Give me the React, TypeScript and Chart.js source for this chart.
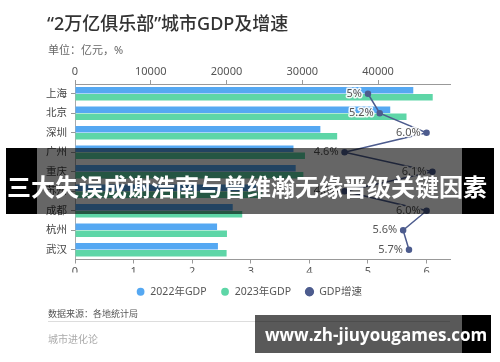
import React, { useEffect, useRef } from "react";
import { Chart, registerables } from "chart.js";

Chart.register(...registerables);

const cities = ["上海", "北京", "深圳", "广州", "重庆", "苏州", "成都", "杭州", "武汉"];
const gdp2022 = [44653, 41611, 32388, 28839, 29129, 23958, 20818, 18753, 18866];
const gdp2023 = [47219, 43761, 34606, 30356, 30146, 24653, 22075, 20059, 20011];
const growth = [5.0, 5.2, 6.0, 4.6, 6.1, 4.6, 6.0, 5.6, 5.7];
const growthLabels = ["5%", "5.2%", "6.0%", "4.6%", "6.1%", "4.6%", "6.0%", "5.6%", "5.7%"];
const seriesNames = ["2022年GDP", "2023年GDP", "GDP增速"];
const gdpTicks = [0, 10000, 20000, 30000, 40000];
const rateTicks = [0, 1, 2, 3, 4, 5, 6];

const BLUE = "#55a8f2";
const GREEN = "#5ed6a7";
const NAVY = "#4d5c8e";
const FONT = '"Noto Sans", "Noto Sans CJK SC", sans-serif';

const pointLabelPlugin = {
  id: "pointLabels",
  afterLayout(chart: any) {
    if (chart.legend) {
      chart.legend.left += 24;
      chart.legend.right += 24;
    }
  },
  afterDatasetsDraw(chart: any) {
    const meta = chart.getDatasetMeta(2);
    const ctx = chart.ctx;
    ctx.save();
    ctx.font = `11px ${FONT}`;
    ctx.textAlign = "right";
    ctx.textBaseline = "middle";
    ctx.lineJoin = "round";
    meta.data.forEach((pt: any, i: number) => {
      const x = pt.x - 6;
      const y = pt.y;
      ctx.strokeStyle = "rgba(255,255,255,0.9)";
      ctx.lineWidth = 3;
      ctx.strokeText(growthLabels[i], x, y);
      ctx.fillStyle = "#555";
      ctx.fillText(growthLabels[i], x, y);
    });
    ctx.restore();
  },
};

export default function App() {
  const ref = useRef<HTMLCanvasElement>(null);
  useEffect(() => {
    if (!ref.current) return;
    const chart = new Chart(ref.current, {
      type: "bar",
      data: {
        labels: cities,
        datasets: [
          {
            label: seriesNames[0],
            data: gdp2022,
            backgroundColor: BLUE,
            xAxisID: "x",
            yAxisID: "y",
            order: 1,
            barPercentage: 0.9,
            categoryPercentage: 0.74,
          },
          {
            label: seriesNames[1],
            data: gdp2023,
            backgroundColor: GREEN,
            xAxisID: "x",
            yAxisID: "y",
            order: 1,
            barPercentage: 0.9,
            categoryPercentage: 0.74,
          },
          {
            type: "line",
            label: seriesNames[2],
            data: growth,
            borderColor: NAVY,
            backgroundColor: NAVY,
            borderWidth: 1.5,
            pointRadius: 2.5,
            pointBackgroundColor: NAVY,
            pointBorderColor: NAVY,
            pointStyle: "circle",
            xAxisID: "x2",
            yAxisID: "y",
            order: 0,
          } as any,
        ],
      },
      options: {
        indexAxis: "y",
        animation: false,
        responsive: false,
        layout: { padding: { left: 0, right: 50, top: 60, bottom: 55 } },
        font: { family: FONT },
        scales: {
          y: {
            type: "category",
            position: "left",
            offset: true,
            afterFit: (s: any) => {
              s.width = 75;
            },
            grid: {
              display: true,
              drawOnChartArea: false,
              offset: false,
              tickLength: 4,
              color: "#999",
            },
            border: { display: true, color: "#aaa" },
            ticks: { color: "#444", font: { size: 10.5, family: FONT }, padding: 4 },
          },
          x: {
            type: "linear",
            position: "top",
            min: 0,
            max: 49500,
            afterFit: (s: any) => {
              s.height = 24;
            },
            afterBuildTicks: (s: any) => {
              s.ticks = gdpTicks.map((v) => ({ value: v }));
            },
            grid: { display: true, drawOnChartArea: false, tickLength: 4, color: "#999" },
            border: { display: true, color: "#999" },
            ticks: {
              color: "#555",
              font: { size: 11, family: FONT },
              padding: 2,
              autoSkip: false,
              maxRotation: 0,
              callback: (v: any) => String(v),
            },
          },
          x2: {
            type: "linear",
            position: "bottom",
            min: 0,
            max: 6.4,
            afterFit: (s: any) => {
              s.height = 13;
            },
            afterBuildTicks: (s: any) => {
              s.ticks = rateTicks.map((v) => ({ value: v }));
            },
            grid: { display: true, drawOnChartArea: false, tickLength: 4, color: "#999" },
            border: { display: true, color: "#999" },
            ticks: {
              color: "#555",
              font: { size: 11, family: FONT },
              padding: 2,
              autoSkip: false,
              maxRotation: 0,
              callback: (v: any) => String(v),
            },
          },
        },
        plugins: {
          legend: {
            display: true,
            position: "bottom",
            labels: {
              usePointStyle: true,
              boxWidth: 9,
              boxHeight: 5.5,
              padding: 14,
              color: "#555",
              font: { size: 10.5, family: FONT },
              sort: (a: any, b: any) => a.datasetIndex - b.datasetIndex,
            },
          },
          tooltip: { enabled: false },
          title: { display: false },
        },
      } as any,
      plugins: [pointLabelPlugin],
    });
    return () => chart.destroy();
  }, []);

  return (
    <div
      style={{
        position: "absolute",
        left: 0,
        top: 0,
        width: 500,
        height: 362,
        background: "#fff",
        overflow: "hidden",
        fontFamily: FONT,
      }}
    >
      <canvas ref={ref} width={500} height={362} style={{ position: "absolute", left: 0, top: 0 }} />
      <div
        style={{
          position: "absolute",
          left: 47,
          top: 13,
          fontSize: 18,
          lineHeight: "20px",
          color: "#333",
          fontWeight: 500,
          whiteSpace: "nowrap",
        }}
      >
        “2万亿俱乐部”城市GDP及增速
      </div>
      <div
        style={{
          position: "absolute",
          left: 48,
          top: 44,
          fontSize: 11,
          lineHeight: "12px",
          color: "#666",
          whiteSpace: "nowrap",
        }}
      >
        单位：亿元，%
      </div>
      <div
        style={{
          position: "absolute",
          left: 48,
          top: 308,
          fontSize: 9,
          lineHeight: "11px",
          color: "#555",
          whiteSpace: "nowrap",
        }}
      >
        数据来源：各地统计局
      </div>
      <div
        style={{ position: "absolute", left: 48, top: 321, width: 402, height: 1, background: "#ddd" }}
      />
      <div
        style={{
          position: "absolute",
          left: 48,
          top: 333,
          fontSize: 10,
          lineHeight: "12px",
          color: "#aaa",
          whiteSpace: "nowrap",
        }}
      >
        城市进化论
      </div>
      {/* banner overlay */}
      <div style={{ position: "absolute", left: 6, top: 148, width: 31, height: 66, background: "#000" }} />
      <div
        style={{ position: "absolute", left: 37, top: 148, width: 425, height: 66, background: "rgba(0,0,0,0.6)" }}
      />
      <div style={{ position: "absolute", left: 462, top: 148, width: 32, height: 66, background: "#000" }} />
      <div
        style={{
          position: "absolute",
          left: 6,
          top: 148,
          width: 482,
          height: 66,
          display: "flex",
          alignItems: "center",
          justifyContent: "center",
          paddingTop: 8,
          boxSizing: "border-box",
          color: "#fff",
          fontWeight: 700,
          fontSize: 24,
          fontFamily: '"Noto Sans CJK SC", sans-serif',
          whiteSpace: "nowrap",
        }}
      >
        三大失误成谢浩南与曾维瀚无缘晋级关键因素
      </div>
      {/* url overlay */}
      <div
        style={{ position: "absolute", left: 255, top: 315, width: 207, height: 38, background: "rgba(0,0,0,0.65)" }}
      />
      <div style={{ position: "absolute", left: 462, top: 315, width: 29, height: 38, background: "#000" }} />
      <div
        style={{
          position: "absolute",
          left: 265,
          top: 315,
          height: 38,
          display: "flex",
          alignItems: "center",
          color: "#fff",
          fontWeight: 700,
          fontSize: 17,
          fontFamily: '"Open Sans", "Noto Sans", sans-serif',
          whiteSpace: "nowrap",
        }}
      >
        www.zh-jiuyougames.com
      </div>
    </div>
  );
}
